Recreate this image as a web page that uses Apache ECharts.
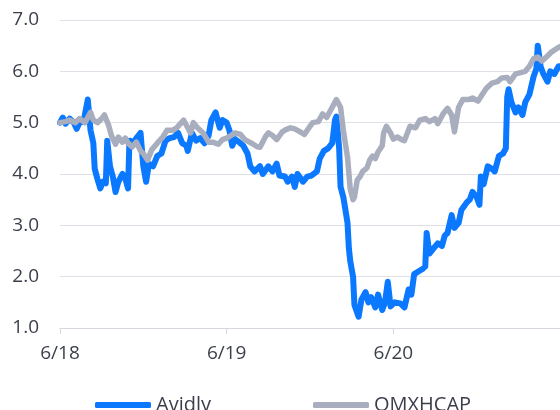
<!DOCTYPE html>
<html>
<head>
<meta charset="utf-8">
<script src="https://cdn.jsdelivr.net/npm/echarts@6/dist/echarts.min.js"></script>
<style>
html,body{margin:0;padding:0;background:#fff;}
#main{width:560px;height:410px;}
</style>
</head>
<body>
<div id="main"></div>
<script>
// x = months since 6/18
var xTickLabels = {0: '6/18', 12: '6/19', 24: '6/20'};
var seriesNames = ['Avidly', 'OMXHCAP'];

var avidly = [
	[0,5.0],[0.2,5.1],[0.4,4.98],[0.7,5.08],[1.0,5.0],[1.2,4.88],[1.4,5.0],[1.7,5.02],
	[2.0,5.45],[2.2,4.85],[2.4,4.6],[2.5,4.1],[2.7,3.9],[2.9,3.72],[3.1,3.85],[3.3,3.82],
	[3.4,4.65],[3.6,4.15],[3.8,3.95],[4.0,3.65],[4.2,3.85],[4.5,4.0],[4.7,3.92],[4.9,3.72],
	[5.0,4.65],[5.3,4.62],[5.5,4.7],[5.8,4.8],[6.0,4.15],[6.2,3.85],[6.4,4.2],[6.7,4.15],
	[7.0,4.35],[7.3,4.4],[7.6,4.65],[7.9,4.7],[8.2,4.72],[8.5,4.8],[8.8,4.6],[9.1,4.55],
	[9.2,4.45],[9.5,4.8],[9.8,4.65],[10.1,4.7],[10.4,4.6],[10.7,4.75],[10.9,5.05],[11.2,5.2],
	[11.4,5.0],[11.5,4.9],[11.7,5.05],[12.0,5.0],[12.2,4.85],[12.4,4.55],[12.6,4.68],[12.9,4.62],
	[13.2,4.55],[13.5,4.4],[13.7,4.15],[14.0,4.05],[14.4,4.15],[14.6,4.0],[15.0,4.15],[15.3,4.05],
	[15.6,4.2],[15.8,3.97],[16.2,3.95],[16.4,3.85],[16.7,3.95],[16.9,3.75],[17.1,4.0],[17.5,3.85],
	[17.8,3.95],[18.1,3.97],[18.5,4.05],[18.7,4.3],[19.0,4.45],[19.3,4.5],[19.6,4.6],[19.8,5.05],
	[19.9,5.12],[20.1,4.5],[20.2,3.75],[20.4,3.55],[20.7,3.05],[20.8,2.55],[20.9,2.3],[21.1,2.0],
	[21.2,1.45],[21.5,1.22],[21.7,1.55],[22.0,1.7],[22.2,1.5],[22.4,1.6],[22.7,1.4],[22.9,1.65],
	[23.2,1.35],[23.4,1.5],[23.6,1.9],[23.8,1.42],[24.1,1.5],[24.5,1.48],[24.8,1.4],[25.1,1.75],
	[25.3,1.65],[25.5,2.05],[25.8,2.1],[26.1,2.15],[26.3,2.2],[26.4,2.85],[26.6,2.45],[26.9,2.55],
	[27.2,2.65],[27.5,2.6],[27.7,2.8],[27.9,2.85],[28.2,3.2],[28.4,2.95],[28.7,3.05],[28.9,3.3],
	[29.3,3.45],[29.5,3.5],[29.7,3.65],[30.0,3.55],[30.2,3.4],[30.3,3.95],[30.5,3.8],[30.8,4.15],
	[31.1,4.1],[31.3,4.05],[31.6,4.35],[31.9,4.4],[32.1,4.5],[32.2,5.5],[32.3,5.65],[32.5,5.4],
	[32.8,5.2],[33.0,5.3],[33.3,5.15],[33.5,5.4],[33.8,5.55],[34.1,5.9],[34.3,6.05],[34.4,6.5],
	[34.6,6.1],[34.8,5.95],[35.1,5.8],[35.3,6.0],[35.6,5.95],[35.9,6.1],[36.0,6.1]
];

var omxhcap = [
	[0,5.0],[0.4,5.02],[0.7,5.05],[1.1,5.0],[1.4,5.08],[1.8,5.0],[2.2,5.2],[2.4,5.05],
	[2.7,5.0],[3.0,5.08],[3.2,5.15],[3.5,4.95],[3.7,4.75],[4.0,4.58],[4.2,4.72],[4.5,4.62],
	[4.7,4.7],[4.9,4.6],[5.2,4.53],[5.5,4.62],[5.8,4.45],[6.0,4.4],[6.3,4.27],[6.6,4.47],
	[7.0,4.6],[7.4,4.72],[7.7,4.85],[8.1,4.85],[8.4,4.9],[8.9,5.05],[9.1,4.95],[9.4,4.8],
	[9.6,5.0],[9.9,4.9],[10.3,4.8],[10.7,4.62],[11.0,4.62],[11.4,4.58],[11.7,4.67],[12.0,4.7],
	[12.2,4.73],[12.6,4.8],[13.0,4.77],[13.3,4.67],[13.8,4.6],[14.2,4.53],[14.4,4.52],[14.8,4.73],
	[15.0,4.8],[15.3,4.75],[15.6,4.67],[16.0,4.82],[16.3,4.87],[16.6,4.9],[16.9,4.88],[17.3,4.82],
	[17.6,4.77],[18.0,4.93],[18.2,5.0],[18.6,5.02],[18.9,5.17],[19.2,5.1],[19.6,5.3],[19.8,5.4],
	[19.9,5.45],[20.2,5.3],[20.4,4.85],[20.7,4.33],[20.9,3.7],[21.1,3.5],[21.2,3.55],[21.4,3.88],
	[21.6,3.95],[21.8,4.05],[22.1,4.12],[22.3,4.27],[22.5,4.35],[22.7,4.3],[22.9,4.43],[23.2,4.55],
	[23.3,4.8],[23.5,4.93],[23.8,4.8],[24.0,4.68],[24.3,4.72],[24.6,4.67],[24.8,4.65],[25.2,4.93],
	[25.6,4.9],[25.9,5.05],[26.3,5.08],[26.6,5.02],[27.0,5.08],[27.2,4.98],[27.6,5.18],[27.9,5.28],
	[28.2,5.15],[28.4,4.82],[28.7,5.3],[29.0,5.45],[29.4,5.45],[29.7,5.48],[30.1,5.42],[30.4,5.55],
	[30.7,5.67],[31.1,5.77],[31.5,5.8],[31.8,5.87],[32.2,5.88],[32.4,5.8],[32.8,5.95],[33.1,5.97],
	[33.5,6.0],[33.8,6.1],[34.1,6.25],[34.4,6.28],[34.7,6.2],[35.1,6.3],[35.4,6.38],[35.8,6.45],
	[36.0,6.48]
];

var textColor = '#3a3f4b';
var fontName = 'Open Sans';

var myChart = echarts.init(document.getElementById('main'));
var option = {
	animation: false,
	grid: {left: 60, right: 0, top: 20, bottom: 82},
	legend: {
		top: 390,
		left: 90,
		itemGap: 102,
		itemWidth: 56,
		itemHeight: 6,
		icon: 'roundRect',
		textStyle: {color: textColor, fontSize: 20, fontFamily: fontName},
		data: seriesNames
	},
	xAxis: {
		type: 'value',
		min: 0,
		max: 36,
		interval: 12,
		axisLine: {lineStyle: {color: '#d5d8df'}},
		axisTick: {show: true, length: 6, lineStyle: {color: '#d5d8df'}},
		splitLine: {show: false},
		axisLabel: {
			color: textColor, fontSize: 19, fontFamily: fontName, margin: 16,
			showMaxLabel: false,
			formatter: function(v){ return xTickLabels[v] || ''; }
		}
	},
	yAxis: {
		type: 'value',
		min: 1,
		max: 7,
		interval: 1,
		axisLine: {show: false},
		axisTick: {show: false},
		splitLine: {lineStyle: {color: '#dfe1e8'}},
		axisLabel: {
			color: textColor, fontSize: 19, fontFamily: fontName, margin: 21,
			formatter: function(v){ return v.toFixed(1); }
		}
	},
	series: [
		{
			name: seriesNames[0],
			type: 'line',
			data: avidly,
			showSymbol: false,
			color: '#0a78ff',
			lineStyle: {width: 6, cap: 'round', join: 'round'}
		},
		{
			name: seriesNames[1],
			type: 'line',
			data: omxhcap,
			showSymbol: false,
			color: '#a8aebd',
			lineStyle: {width: 5.5, cap: 'round', join: 'round'}
		}
	]
};
myChart.setOption(option);
</script>
</body>
</html>
